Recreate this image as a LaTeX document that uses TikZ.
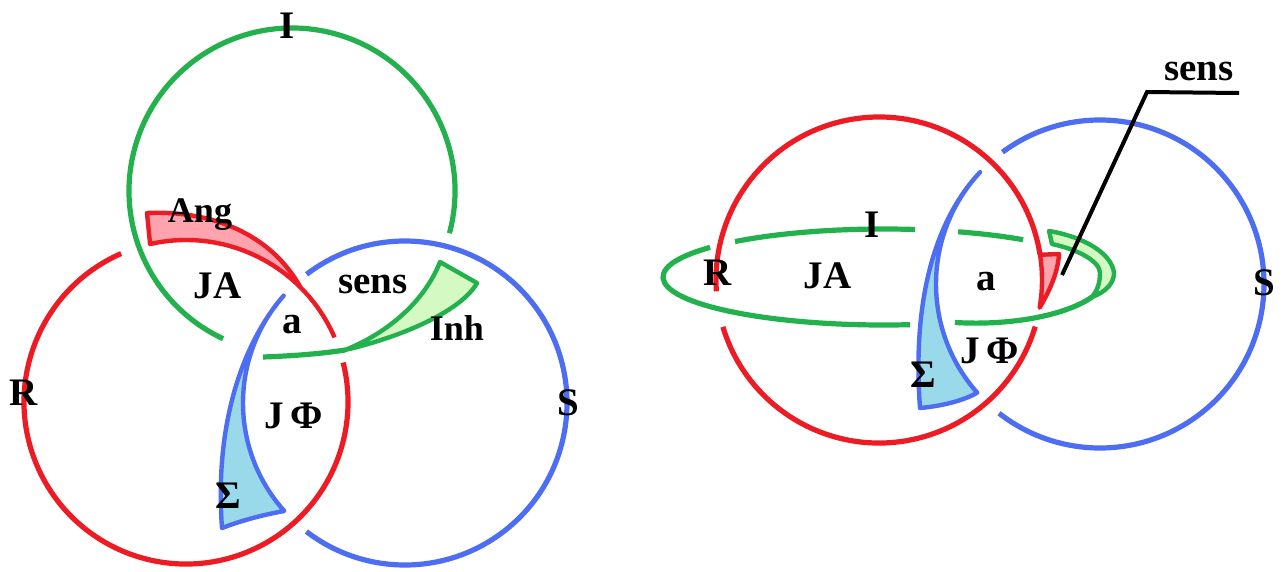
\documentclass[tikz,border=0pt]{standalone}
\usepackage{fontspec}
\setmainfont{Liberation Serif}
\definecolor{cred}{HTML}{ED1C24}
\definecolor{cgreen}{HTML}{22B14C}
\definecolor{cblue}{HTML}{4D6DF3}
\definecolor{fpink}{HTML}{FFA3AE}
\definecolor{flgreen}{HTML}{D4F9C2}
\definecolor{flblue}{HTML}{99D9EA}
\begin{document}
\begin{tikzpicture}[x=1pt,y=-1pt,
  ring/.style={line width=5.2pt},
  lobe/.style={line width=4.4pt, line join=round},
  lbl/.style={font=\fontsize{39}{39}\selectfont\bfseries, anchor=base, inner sep=0pt},
  slbl/.style={font=\fontsize{36}{36}\selectfont\bfseries, anchor=base, inner sep=0pt},
  callout/.style={line width=4pt, black, line join=miter}]
\useasboundingbox[fill=white] (0,0) rectangle (1282,571);

% ---------------- left diagram ----------------
\coordinate (g1) at (292,191);
\coordinate (r1) at (186,402);
\coordinate (b1) at (405,403);

% green circle I
\draw[ring, cgreen] ([shift={(15:163)}]g1) arc[start angle=15, end angle=-245, radius=163];
\draw[lobe, cgreen, fill=flgreen] (345,350) .. controls (390,332) and (425,300) .. (440,262)
   -- (477,283) .. controls (462,310) and (405,336) .. (345,350) -- cycle;
\draw[ring, cgreen] (263,357) .. controls (290,356) and (320,354) .. (345,350);

% red circle R
\draw[ring, cred] ([shift={(-113.6:162)}]r1) arc[start angle=-113.6, end angle=-374.1, radius=162];
\fill[fpink] ([shift={(-45:162)}]r1) arc[start angle=-45, end angle=-102.8, radius=162]
   -- (147,213) .. controls (215,210) and (272,236) .. ([shift={(-45:162)}]r1) -- cycle;
\draw[lobe, cred] ([shift={(-23.5:162)}]r1) arc[start angle=-23.5, end angle=-102.8, radius=162]
   -- (147,213) .. controls (215,210) and (272,236) .. ([shift={(-45:162)}]r1);

% blue circle S
\draw[ring, cblue] ([shift={(-127.4:162)}]b1) arc[start angle=-127.4, end angle=127.5, radius=162];
\draw[lobe, cblue, fill=flblue] ([shift={(-138.5:162)}]b1) arc[start angle=-138.5, end angle=-221.8, radius=162]
   .. controls (262,515) and (240,521) .. (222,528)
   .. controls (214,420) and (245,340) .. ([shift={(-138.5:162)}]b1) -- cycle;

% ---------------- right diagram ----------------
\coordinate (r2) at (879,280);
\coordinate (b2) at (1100,284);
\coordinate (e2) at (884,277);

% red circle R
\draw[ring, cred] ([shift={(-8.9:163)}]r2) arc[start angle=-8.9, end angle=-184, radius=163];
\draw[ring, cred] ([shift={(-196.7:163)}]r2) arc[start angle=-196.7, end angle=-343.4, radius=163];
\draw[lobe, cred, fill=fpink] ([shift={(-8.9:163)}]r2) arc[start angle=-8.9, end angle=9.8, radius=163]
   .. controls (1050,290) and (1058,272) .. (1059,254) -- cycle;

% blue circle S
\draw[ring, cblue] ([shift={(-126.5:164)}]b2) arc[start angle=-126.5, end angle=128, radius=164];
\draw[lobe, cblue, fill=flblue] ([shift={(-137:164)}]b2) arc[start angle=-137, end angle=-221.5, radius=164]
   .. controls (965,400) and (943,406) .. (920,408)
   .. controls (912,300) and (935,220) .. ([shift={(-137:164)}]b2) -- cycle;

% green ellipse I
\draw[ring, cgreen] ([shift={(-132.4:221 and 48)}]e2) arc[start angle=-132.4, end angle=-81.9, x radius=221, y radius=48];
\draw[ring, cgreen] ([shift={(-70.4:221 and 48)}]e2) arc[start angle=-70.4, end angle=-51.0, x radius=221, y radius=48];
\draw[ring, cgreen] ([shift={(83.2:221 and 48)}]e2) arc[start angle=83.2, end angle=218.1, x radius=221, y radius=48];
\draw[ring, cgreen] (955,322.5) .. controls (1015,326) and (1068,314) .. (1092,297);
\draw[lobe, cgreen, fill=flgreen] (1052,244) .. controls (1080,250) and (1100,262) .. (1100,273)
   .. controls (1100,285) and (1096,292) .. (1092,297)
   .. controls (1106,292) and (1114,283) .. (1114,273)
   .. controls (1112,254) and (1085,237) .. (1049,231) -- cycle;

% callout
\coordinate (sA) at (1062,275);
\coordinate (sB) at (1147,92);
\coordinate (sC) at (1239,93);
\draw[callout] (sA) -- (sB) -- (sC);

% ---------------- labels ----------------
\node[lbl] (lI) at (287.5,38) {I};
\node[slbl] (lAng) at (200,222) {Ang};
\node[lbl] (lJA) at (217.5,298) {JA};
\node[lbl] (lsens) at (373,293) {sens};
\node[lbl] (la) at (292.5,333) {a};
\node[slbl] (lInh) at (457,340) {Inh};
\node[lbl] (lR) at (23.5,405) {R};
\node[lbl] (lJF) at (293.5,428) {J\,Φ};
\node[lbl] (lS) at (568.5,415) {S};
\node[lbl] (lSig) at (228.5,508) {Σ};

\node[lbl] (rI) at (872.5,237) {I};
\node[lbl] (rR) at (718,285) {R};
\node[lbl] (rJA) at (827.5,288) {JA};
\node[lbl] (ra) at (986,290) {a};
\node[lbl] (rJF) at (990,363) {J\,Φ};
\node[lbl] (rSig) at (923.5,387) {Σ};
\node[lbl] (rS) at (1264,295) {S};
\node[lbl] (rsens) at (1199,80) {sens};
\end{tikzpicture}
\end{document}
